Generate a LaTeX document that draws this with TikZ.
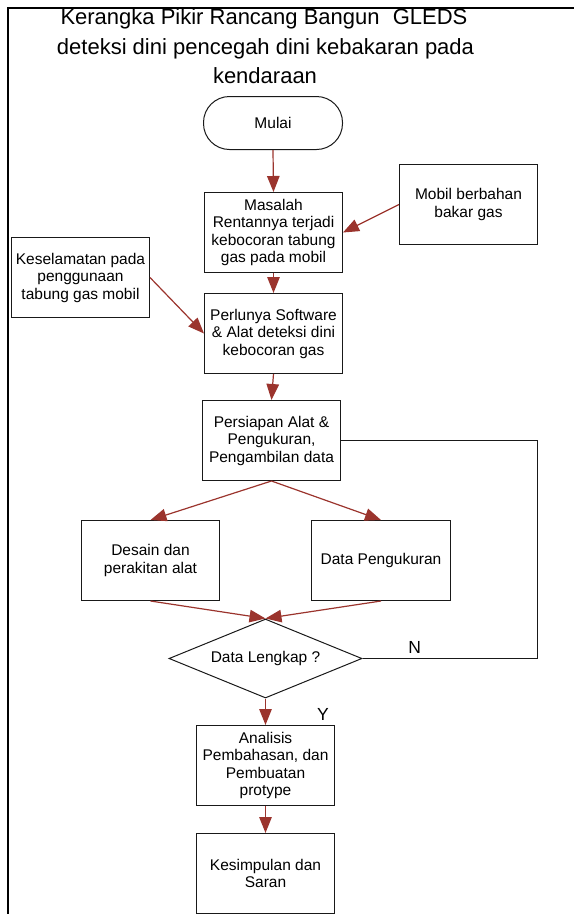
\documentclass[tikz,border=0pt]{standalone}
\usepackage{fontspec}
\setmainfont{Liberation Sans}
\usetikzlibrary{arrows.meta,shapes.geometric}
\definecolor{arrowred}{RGB}{155,52,45}
\definecolor{boxline}{RGB}{25,25,25}
\tikzset{
  box/.style={draw=boxline, line width=1pt, rectangle, minimum width=138pt, minimum height=80pt, inner sep=2pt, align=center, font=\fontsize{15.5}{17.5}\selectfont},
  term/.style={box, rounded corners=26pt, minimum width=139pt, minimum height=53pt},
  decis/.style={draw=boxline, line width=1pt, diamond, aspect=2.44, minimum width=193pt, minimum height=79pt, inner sep=0pt, font=\fontsize{15.5}{17.5}\selectfont},
  flow/.style={draw=arrowred, line width=1.2pt, -{Triangle[length=16pt,width=12.5pt]}},
  loopline/.style={draw=boxline, line width=1pt},
  titletext/.style={anchor=base, inner sep=0pt, font=\fontsize{22}{29.5}\selectfont},
  yn/.style={inner sep=0pt, font=\fontsize{17.5}{20}\selectfont}
}
\begin{document}
\begin{tikzpicture}[x=1pt,y=-1pt]
\useasboundingbox (0,0) rectangle (574,914);
% frame
\draw[line width=2pt] (7.5,914) -- (7.5,8.3) -- (574,8.3);
% title
\begin{scope}
\clip (0,9.3) rectangle (574,120);
\node[titletext] (title1) at (264,24) {Kerangka Pikir Rancang Bangun\hspace{0.6em}GLEDS};
\node[titletext] (title2) at (265.5,54) {deteksi dini pencegah dini kebakaran pada};
\node[titletext] (title3) at (265,83.5) {kendaraan};
\end{scope}
% nodes
\node[term] (mulai) at (273,123) {Mulai};
\node[box] (masalah) at (273.5,232.5) {Masalah\\Rentannya terjadi\\kebocoran tabung\\gas pada mobil};
\node[box] (mobil) at (468.5,204.5) {Mobil berbahan\\bakar gas};
\node[box] (kesel) at (80.5,277.5) {Keselamatan pada\\penggunaan\\tabung gas mobil};
\node[box] (perlu) at (273.5,333.5) {Perlunya Software\\\& Alat deteksi dini\\kebocoran gas};
\node[box] (persiap) at (271.5,440.5) {Persiapan Alat \&\\Pengukuran,\\Pengambilan data};
\node[box] (desain) at (150.5,560.5) {Desain dan\\perakitan alat};
\node[box, minimum width=139pt] (datap) at (381,560.5) {Data Pengukuran};
\node[decis] (diam) at (265.5,658.5) {Data Lengkap ?};
\node[box] (analisis) at (265.5,765.5) {Analisis\\Pembahasan, dan\\Pembuatan\\protype};
\node[box] (kesimp) at (265.5,873.5) {Kesimpulan dan\\Saran};
% labels
\node[yn] (lblN) at (414.6,647) {N};
\node[yn] (lblY) at (323,714) {Y};
% connectors
\coordinate (fb) at (537.5,550);
\draw[flow] (mulai.south) -- (masalah.north);
\draw[flow] (mobil.west) -- (masalah.east);
\draw[flow] (masalah.south) -- (perlu.north);
\draw[flow] (kesel.east) -- (perlu.west);
\draw[flow] (perlu.south) -- (persiap.north);
\draw[flow] (persiap.south) -- (desain.north);
\draw[flow] (persiap.south) -- (datap.north);
\draw[flow] (desain.south) -- (diam.north);
\draw[flow] (datap.south) -- (diam.north);
\draw[loopline] (persiap.east) -| (fb) |- (diam.east);
\draw[flow] (diam.south) -- (analisis.north);
\draw[flow] (analisis.south) -- (kesimp.north);
\end{tikzpicture}
\end{document}
